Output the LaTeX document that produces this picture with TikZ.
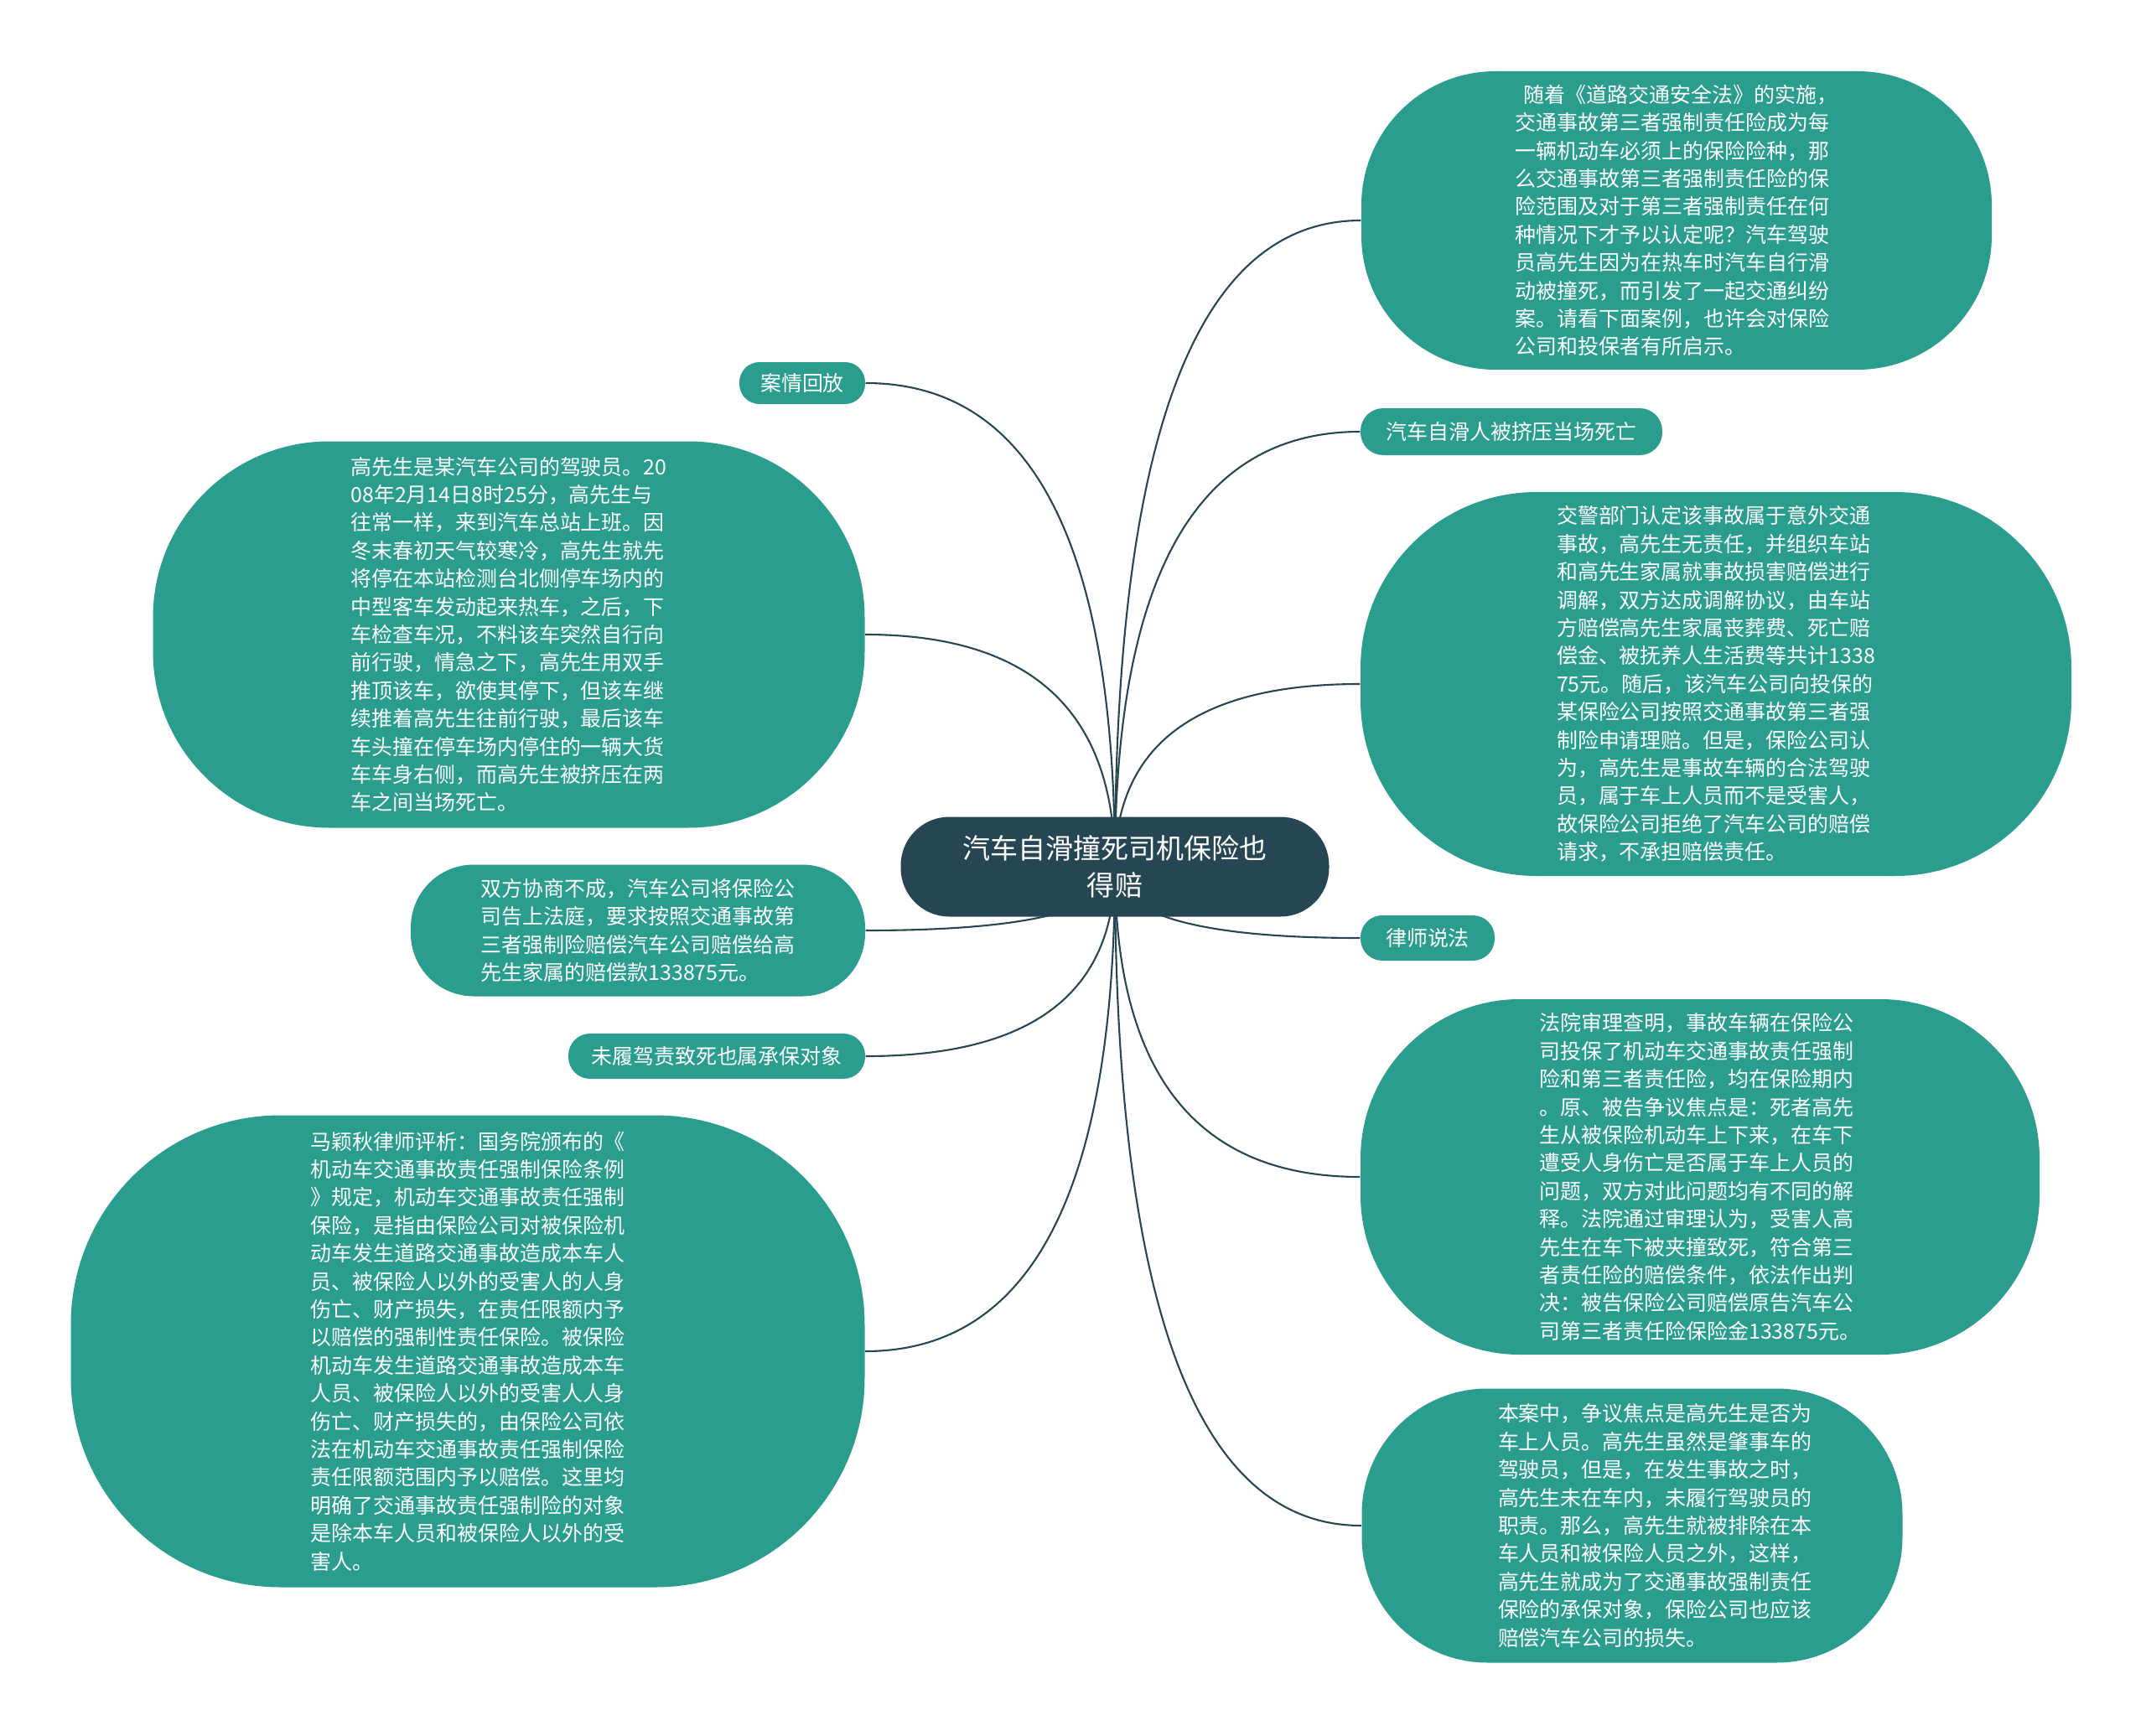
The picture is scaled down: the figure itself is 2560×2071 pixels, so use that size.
\documentclass[tikz,border=0pt]{standalone}
\usepackage{fontspec}
\newfontfamily\cjk{Noto Sans CJK SC}
\usetikzlibrary{backgrounds,calc}
\definecolor{leafgreen}{HTML}{2A9D8F}
\definecolor{rootblue}{HTML}{264653}

\begin{document}
\begin{tikzpicture}[x=0.1mm, y=-0.1mm,
  topic/.style = {fill=leafgreen, text=white, inner sep=0pt, align=left, font=\cjk\fontsize{7.1pt}{9.5pt}\selectfont},
  root/.style = {fill=rootblue, text=white, inner sep=0pt, align=center, rounded corners=5.8mm, minimum width=51.1mm, minimum height=11.9mm, font=\cjk\fontsize{9.4pt}{12.5pt}\selectfont},
  link/.style = {draw=rootblue, line width=0.6pt}]
\useasboundingbox (0,0) rectangle (2560,2071);

\node[root] (main) at (1330,1034) {汽车自滑撞死司机保险也\\得赔};

% right side
\node[topic, minimum width=75.2mm, minimum height=35.6mm, rounded corners=16mm] (intro) at (2000,263) {\hspace{1mm}随着《道路交通安全法》的实施，\\交通事故第三者强制责任险成为每\\一辆机动车必须上的保险险种，那\\么交通事故第三者强制责任险的保\\险范围及对于第三者强制责任在何\\种情况下才予以认定呢？汽车驾驶\\员高先生因为在热车时汽车自行滑\\动被撞死，而引发了一起交通纠纷\\案。请看下面案例，也许会对保险\\公司和投保者有所启示。};
\node[topic, minimum width=36mm, minimum height=5.6mm, rounded corners=2.7mm] (slide) at (1803,515) {汽车自滑人被挤压当场死亡};
\node[topic, minimum width=84.8mm, minimum height=45.8mm, rounded corners=21mm] (police) at (2047,816) {交警部门认定该事故属于意外交通\\事故，高先生无责任，并组织车站\\和高先生家属就事故损害赔偿进行\\调解，双方达成调解协议，由车站\\方赔偿高先生家属丧葬费、死亡赔\\偿金、被抚养人生活费等共计1338\\75元。随后，该汽车公司向投保的\\某保险公司按照交通事故第三者强\\制险申请理赔。但是，保险公司认\\为，高先生是事故车辆的合法驾驶\\员，属于车上人员而不是受害人，\\故保险公司拒绝了汽车公司的赔偿\\请求，不承担赔偿责任。};
\node[topic, minimum width=16mm, minimum height=5.4mm, rounded corners=2.6mm] (lawyer) at (1703,1119) {律师说法};
\node[topic, minimum width=81mm, minimum height=42.4mm, rounded corners=19mm] (court) at (2028,1404) {法院审理查明，事故车辆在保险公\\司投保了机动车交通事故责任强制\\险和第三者责任险，均在保险期内\\。原、被告争议焦点是：死者高先\\生从被保险机动车上下来，在车下\\遭受人身伤亡是否属于车上人员的\\问题，双方对此问题均有不同的解\\释。法院通过审理认为，受害人高\\先生在车下被夹撞致死，符合第三\\者责任险的赔偿条件，依法作出判\\决：被告保险公司赔偿原告汽车公\\司第三者责任险保险金133875元。};
\node[topic, minimum width=64.5mm, minimum height=32.7mm, rounded corners=15mm, text width=32mm] (final) at (1947,1820) {本案中，争议焦点是高先生是否为\\车上人员。高先生虽然是肇事车的\\驾驶员，但是，在发生事故之时，\\高先生未在车内，未履行驾驶员的\\职责。那么，高先生就被排除在本\\车人员和被保险人员之外，这样，\\高先生就成为了交通事故强制责任\\保险的承保对象，保险公司也应该\\赔偿汽车公司的损失。};

% left side
\node[topic, minimum width=15mm, minimum height=5mm, rounded corners=2.4mm] (replay) at (957,457) {案情回放};
\node[topic, minimum width=84.9mm, minimum height=46.1mm, rounded corners=21mm] (story) at (607,757) {高先生是某汽车公司的驾驶员。20\\08年2月14日8时25分，高先生与\\往常一样，来到汽车总站上班。因\\冬末春初天气较寒冷，高先生就先\\将停在本站检测台北侧停车场内的\\中型客车发动起来热车，之后，下\\车检查车况，不料该车突然自行向\\前行驶，情急之下，高先生用双手\\推顶该车，欲使其停下，但该车继\\续推着高先生往前行驶，最后该车\\车头撞在停车场内停住的一辆大货\\车车身右侧，而高先生被挤压在两\\车之间当场死亡。};
\node[topic, minimum width=54.2mm, minimum height=15.7mm, rounded corners=7.5mm] (lawsuit) at (761,1110) {双方协商不成，汽车公司将保险公\\司告上法庭，要求按照交通事故第\\三者强制险赔偿汽车公司赔偿给高\\先生家属的赔偿款133875元。};
\node[topic, minimum width=35.4mm, minimum height=5.4mm, rounded corners=2.6mm] (cover) at (855,1260) {未履驾责致死也属承保对象};
\node[topic, minimum width=94.7mm, minimum height=56.3mm, rounded corners=25mm] (analysis) at (558,1612) {马颖秋律师评析：国务院颁布的《\\机动车交通事故责任强制保险条例\\》规定，机动车交通事故责任强制\\保险，是指由保险公司对被保险机\\动车发生道路交通事故造成本车人\\员、被保险人以外的受害人的人身\\伤亡、财产损失，在责任限额内予\\以赔偿的强制性责任保险。被保险\\机动车发生道路交通事故造成本车\\人员、被保险人以外的受害人人身\\伤亡、财产损失的，由保险公司依\\法在机动车交通事故责任强制保险\\责任限额范围内予以赔偿。这里均\\明确了交通事故责任强制险的对象\\是除本车人员和被保险人以外的受\\害人。};

% curved links, drawn behind the nodes
\begin{scope}[on background layer]
\foreach \leaf/\side in {intro/west, slide/west, police/west, lawyer/west, court/west, final/west,
                         replay/east, story/east, lawsuit/east, cover/east, analysis/east}
  \draw[link] (main.center) .. controls ($(main.center)!0.667!(main.center |- \leaf.\side)$)
                             and ($(\leaf.\side)!0.667!(main.center |- \leaf.\side)$) .. (\leaf.\side);
\end{scope}
\end{tikzpicture}
\end{document}
